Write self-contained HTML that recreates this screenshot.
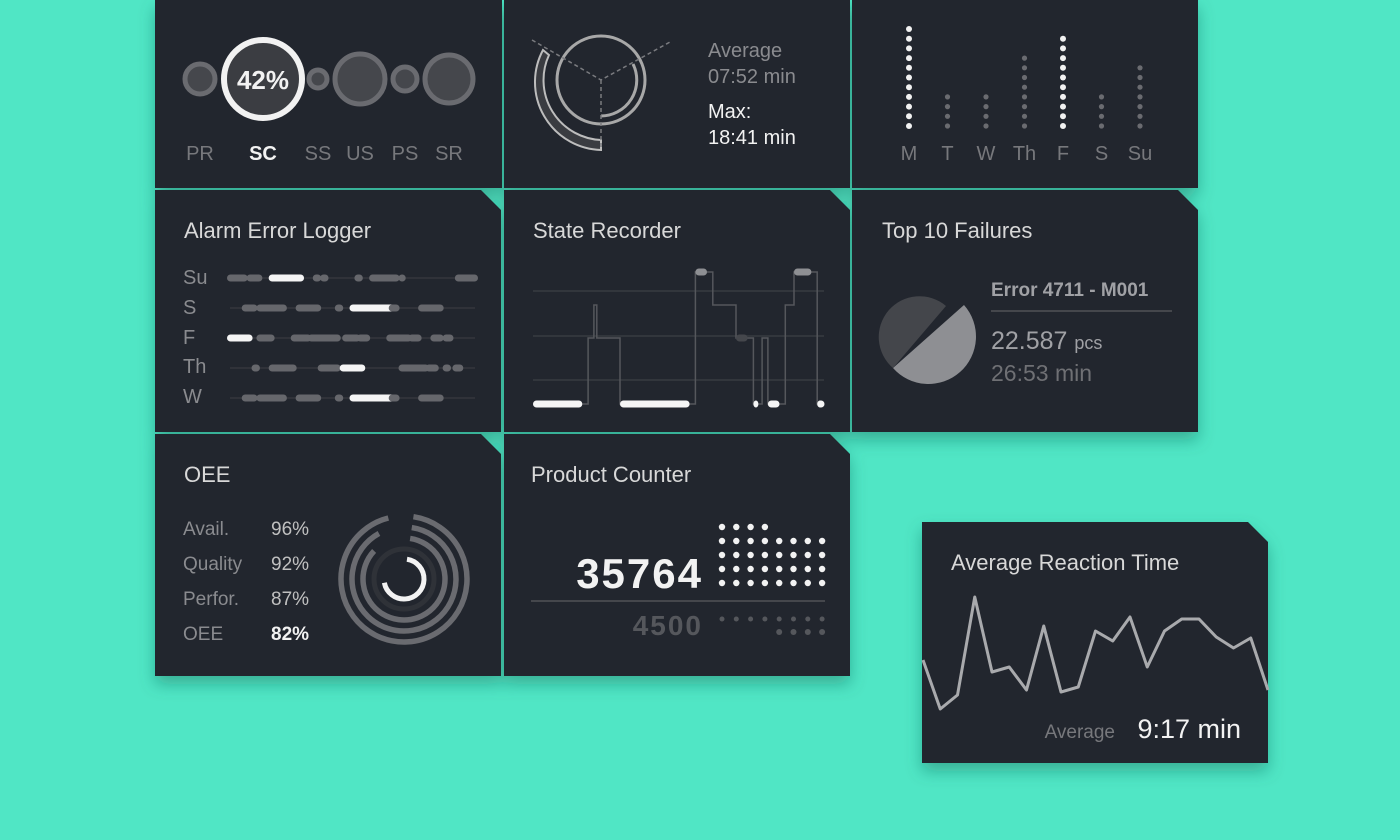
<!DOCTYPE html>
<html><head><meta charset="utf-8"><style>
html,body{margin:0;padding:0;background:#50e6c5;}
svg{display:block;font-family:"Liberation Sans",sans-serif;}
</style></head><body>
<svg id="s" width="1400" height="840" viewBox="0 0 1400 840">
<defs><filter id="sh" x="-10%" y="-10%" width="130%" height="140%"><feDropShadow dx="0" dy="8" stdDeviation="8" flood-color="#1a6b5a" flood-opacity="0.45"/></filter></defs>
<rect width="1400" height="840" fill="#50e6c5"/>
<g filter="url(#sh)" fill="#24272e">
<polygon points="155,0 502,0 502,188 155,188"/>
<polygon points="504,0 850,0 850,188 504,188"/>
<polygon points="852,0 1198,0 1198,188 852,188"/>
<polygon points="155,190 481,190 501,210 501,432 155,432"/>
<polygon points="504,190 830,190 850,210 850,432 504,432"/>
<polygon points="852,190 1178,190 1198,210 1198,432 852,432"/>
<polygon points="155,434 481,434 501,454 501,676 155,676"/>
<polygon points="504,434 830,434 850,454 850,676 504,676"/>
<polygon points="922,522 1248,522 1268,542 1268,763 922,763"/>
</g>

<!-- Row 1 panel 1 -->
<g>
<circle cx="200" cy="79" r="15" fill="#45474c" stroke="#6a6b70" stroke-width="5"/>
<circle cx="263" cy="79" r="39" fill="#3b3d42" stroke="#f2f2f2" stroke-width="6"/>
<circle cx="318" cy="79" r="9" fill="#45474c" stroke="#6a6b70" stroke-width="5"/>
<circle cx="360" cy="79" r="25" fill="#45474c" stroke="#6a6b70" stroke-width="5"/>
<circle cx="405" cy="79" r="12" fill="#45474c" stroke="#6a6b70" stroke-width="5"/>
<circle cx="449" cy="79" r="24" fill="#45474c" stroke="#6a6b70" stroke-width="5"/>
<text x="263" y="89" text-anchor="middle" font-size="26" font-weight="bold" fill="#f2f2f2">42%</text>
</g>
<g font-size="20" fill="#77787c" text-anchor="middle">
<text x="200" y="160">PR</text><text x="263" y="160" fill="#f2f2f2" font-weight="bold">SC</text><text x="318" y="160">SS</text><text x="360" y="160">US</text><text x="405" y="160">PS</text><text x="449" y="160">SR</text>
</g>

<!-- Row 1 panel 2 -->
<g fill="none">
<path d="M 543 50 A 68 68 0 0 0 601 150 L 601 140 A 60 60 0 0 1 549 55 Z" fill="#3a3c41" stroke="#bdbdbd" stroke-width="2"/>
<circle cx="601" cy="80" r="44" stroke="#a8a8a8" stroke-width="3"/>
<path d="M 633 64 A 36 36 0 0 1 601 116" stroke="#a8a8a8" stroke-width="3"/>
<path d="M 532 40 L 601 80 L 670 42 M 601 80 L 601 150" stroke="#7a7b7f" stroke-width="1.5" stroke-dasharray="4 3"/>
</g>
<g font-size="20">
<text x="708" y="57" fill="#8a8b8f">Average</text>
<text x="708" y="83" fill="#8a8b8f">07:52 min</text>
<text x="708" y="118" fill="#f2f2f2">Max:</text>
<text x="708" y="144" fill="#f2f2f2">18:41 min</text>
</g>

<!-- Row 1 panel 3 -->
<g id="weekdots"></g>

<!-- Alarm -->
<text x="184" y="238" font-size="22" fill="#d8d8d8">Alarm Error Logger</text>
<g font-size="20" fill="#8a8b8f">
<text x="183" y="284">Su</text><text x="183" y="314">S</text><text x="183" y="344">F</text><text x="183" y="373">Th</text><text x="183" y="403">W</text>
</g>
<g id="alarm"></g>

<!-- State recorder -->
<text x="533" y="238" font-size="22" fill="#d8d8d8">State Recorder</text>
<g stroke="#383b41" stroke-width="1.5">
<line x1="533" y1="291" x2="824" y2="291"/><line x1="533" y1="336" x2="824" y2="336"/><line x1="533" y1="380" x2="824" y2="380"/>
</g>
<g id="state"></g>

<!-- Failures -->
<text x="882" y="238" font-size="22" fill="#d8d8d8">Top 10 Failures</text>
<g>
<path d="M 964 305 A 37 37 0 1 1 893 368 Z" fill="#8e8f93"/>
<path d="M 893 368 A 37 37 0 0 1 946 306 Z" fill="#44464b"/>
</g>
<text x="991" y="296" font-size="19" fill="#a0a1a5" font-weight="bold">Error 4711 - M001</text>
<line x1="991" y1="311" x2="1172" y2="311" stroke="#45474c" stroke-width="2"/>
<text x="991" y="349" font-size="25" fill="#a0a1a5">22.587 <tspan font-size="18">pcs</tspan></text>
<text x="991" y="381" font-size="23" fill="#6f7074">26:53 min</text>

<!-- OEE -->
<text x="184" y="482" font-size="22" fill="#d8d8d8">OEE</text>
<g font-size="19" fill="#8a8b8f">
<text x="183" y="535">Avail.</text><text x="183" y="570">Quality</text><text x="183" y="605">Perfor.</text><text x="183" y="640">OEE</text>
</g>
<g id="oeevals" font-size="19" fill="#c8c8c8"></g>
<g id="oee"></g>

<!-- Product counter -->
<text x="531" y="482" font-size="22" fill="#d8d8d8">Product Counter</text>
<text x="703" y="588" text-anchor="end" font-size="42" font-weight="bold" fill="#f2f2f2" letter-spacing="2">35764</text>
<line x1="531" y1="601" x2="825" y2="601" stroke="#45474c" stroke-width="2"/>
<text x="703" y="635" text-anchor="end" font-size="28" font-weight="bold" fill="#55575c" letter-spacing="2">4500</text>
<g id="pdots"></g>

<!-- Reaction -->
<text x="951" y="570" font-size="22" fill="#d8d8d8">Average Reaction Time</text>
<g id="react"></g>
<text x="1115" y="738" text-anchor="end" font-size="19" fill="#77787c">Average</text>
<text x="1241" y="738" text-anchor="end" font-size="27" fill="#f2f2f2">9:17 min</text>
</svg>
<script>
const NS="http://www.w3.org/2000/svg";
function mk(t,a,p){const e=document.createElementNS(NS,t);for(const k in a)e.setAttribute(k,a[k]);p.appendChild(e);return e;}

// Weekday dots
const weekDays=["M","T","W","Th","F","S","Su"];
const weekCounts=[11,4,4,8,10,4,7];
const weekHighlight=[1,0,0,0,1,0,0];
const wg=document.getElementById('weekdots');
weekDays.forEach((d,i)=>{
  const x=909+i*38.5;
  for(let j=0;j<weekCounts[i];j++){
    const c=mk('circle',{cx:x,cy:126-j*9.7,r:weekHighlight[i]?3:2.6,fill:weekHighlight[i]?'#f2f2f2':'#6a6b70'},wg);
    
    
  }
  const t=mk('text',{x:x,y:160,'text-anchor':'middle','font-size':20,fill:'#77787c'},wg);
  t.textContent=d;
  
  
});

// Alarm rows: segments [start,end,level] in 0..100 time units
const alarmRowsY=[278,308,338,368,398];
const alarmSu=[[0,6,1],[8,12,1],[17,29,2],[35,36,1],[38,39,1],[52,53,1],[58,68,1],[70,70.5,1],[93,100,1]];
const alarmS=[[6,10,1],[12,22,1],[28,36,1],[44,45,1],[50,66,2],[66,68,1],[78,86,1]];
const alarmF=[[0,8,2],[12,17,1],[26,32,1],[33,44,1],[47,52,1],[53,56,1],[65,73,1],[74,77,1],[83,86,1],[88,90,1]];
const alarmTh=[[10,11,1],[17,26,1],[37,44,1],[46,54,2],[70,80,1],[81,84,1],[88,89,1],[92,94,1]];
const alarmW=[[6,10,1],[12,22,1],[28,36,1],[44,45,1],[50,66,2],[66,68,1],[78,86,1]];
const alarmData=[alarmSu,alarmS,alarmF,alarmTh,alarmW];
const ag=document.getElementById('alarm');
const ax=v=>230+v*2.45;
alarmData.forEach((row,i)=>{
  const y=alarmRowsY[i];
  const l=mk('line',{x1:230,y1:y,x2:475,y2:y,stroke:'#34373d','stroke-width':1.5},ag);
  
  
  row.forEach(s=>{
    const x1=ax(s[0]),x2=ax(s[1]);
    const r=mk('rect',{x:x1-3,y:y-3.5,width:Math.max(x2-x1,1)+6,height:7,rx:3.5,fill:s[2]==2?'#f5f5f5':'#66676c'},ag);
    
    
  });
});

// State recorder: states over time (0..100), level 0..4
const stateTimes=[0,17,19,21,22,30,54,56,60,62,70,74,76,77,79,81,85,87,90,96,98,100];
const stateLevels=[0,0,2,3,2,0,0,4,4,3,2,2,0,0,2,0,0,3,4,4,0,0];
const sg=document.getElementById('state');
const sx=v=>533+v*2.9, sy=v=>404-v*33;
let d='';
for(let i=0;i<stateTimes.length;i++){
  const x=sx(stateTimes[i]),y=sy(stateLevels[i]);
  if(i==0)d+='M'+x+' '+y;else d+=' L'+x+' '+sy(stateLevels[i-1])+' L'+x+' '+y;
}
const sp=mk('path',{d:d,fill:'none',stroke:'#55575c','stroke-width':1.5},sg);


for(let i=0;i<stateTimes.length-1;i++){
  const lv=stateLevels[i];
  if(lv!==stateLevels[i+1])continue;
  const x1=sx(stateTimes[i]),x2=sx(stateTimes[i+1]);
  const col=lv==0?'#f5f5f5':lv==4?'#8e8f93':'#45474c';
  const r=mk('rect',{x:x1,y:sy(lv)-3.5,width:Math.max(x2-x1,5),height:7,rx:3.5,fill:col},sg);
  
  
}
const lastDot=mk('circle',{cx:sx(100)-2,cy:sy(0),r:3.5,fill:'#f5f5f5'},sg);



// OEE rings
const oeeLabels=["Avail.","Quality","Perfor.","OEE"];
const oeeValues=[96,92,87,82];
const og=document.getElementById('oee');
const ov=document.getElementById('oeevals');
const oeeRadii=[63,52,41,20];
const cx=404,cy=579;
function arc(r,p){
  const a0=-Math.PI/2+0.15, a1=a0+(p/100)*2*Math.PI-0.15;
  const x0=cx+r*Math.cos(a0),y0=cy+r*Math.sin(a0),x1=cx+r*Math.cos(a1),y1=cy+r*Math.sin(a1);
  return `M${x0} ${y0} A${r} ${r} 0 ${p>50?1:0} 1 ${x1} ${y1}`;
}
const bgr=mk('circle',{cx:cx,cy:cy,r:30,fill:'none',stroke:'#2f3238','stroke-width':5},og);


oeeValues.forEach((v,i)=>{
  const p=mk('path',{d:arc(oeeRadii[i],i==3?v-10:v),fill:'none',stroke:i==3?'#f2f2f2':'#6a6b70','stroke-width':i==3?5:5.5},og);
  
  
  const t=mk('text',{x:271,y:535+i*35,fill:i==3?'#f2f2f2':'#c0c0c0','font-weight':i==3?'bold':'normal'},ov);
  t.textContent=v+'%';
  
  
});

// Product counter dots
const pg=document.getElementById('pdots');
const dotRows=[4,8,8,8,8];
dotRows.forEach((n,r)=>{for(let c=0;c<n;c++){
  const e=mk('circle',{cx:722+c*14.3,cy:527+r*14,r:3.2,fill:'#f2f2f2'},pg);
  
  
}});
for(let c=0;c<8;c++){const e=mk('circle',{cx:722+c*14.3,cy:619,r:2.5,fill:'#55575c'},pg);
  
  }
for(let c=4;c<8;c++){const e=mk('circle',{cx:722+c*14.3,cy:632,r:3,fill:'#55575c'},pg);
  
  }

// Reaction line
const reactionValues=[10.5,5.6,7.0,16.8,9.3,9.8,7.5,13.9,7.3,7.8,13.4,12.4,14.8,9.8,13.4,14.6,14.6,12.8,11.7,12.7,7.5];
const rg=document.getElementById('react');
const rx=i=>923+i*(345/(reactionValues.length-1)), ry=v=>765-v*10;
const pts=reactionValues.map((v,i)=>rx(i)+','+ry(v)).join(' ');
const rl=mk('polyline',{points:pts,fill:'none',stroke:'#a9aaad','stroke-width':3,'stroke-linejoin':'round'},rg);


</script>
</body></html>
